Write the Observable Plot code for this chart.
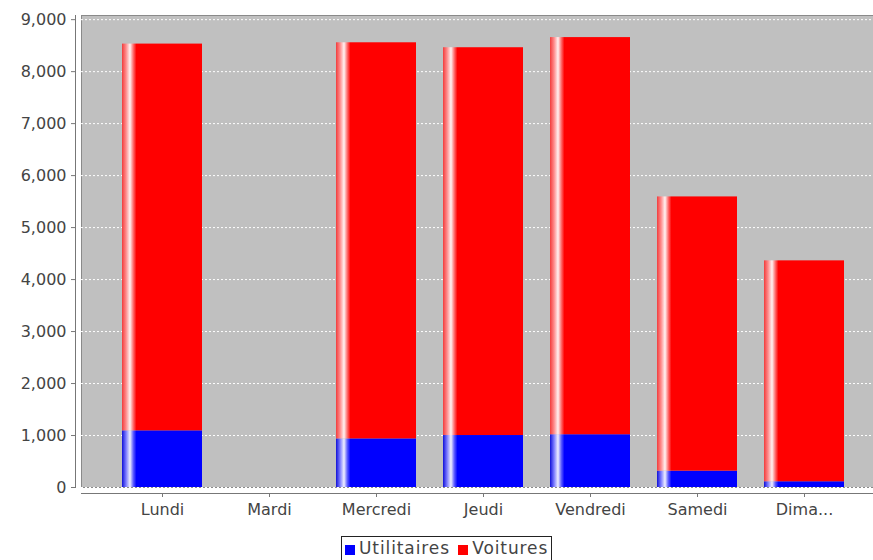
<!DOCTYPE html>
<html>
<head>
<meta charset="utf-8">
<script src="https://cdn.jsdelivr.net/npm/d3@7"></script>
<script src="https://cdn.jsdelivr.net/npm/@observablehq/plot@0.6"></script>
<style>
  body { margin: 0; background: #fff; font-family: "DejaVu Sans", sans-serif; }
  #wrap { position: relative; width: 873px; height: 560px; overflow: hidden; }
  #legend { position: absolute; left: 341px; top: 536px; border: 1px solid #222; padding: 1px 3px 2px 3px;
            font-size: 17px; letter-spacing: 0.9px; color: #444; white-space: nowrap; line-height: 21px; }
  .sw { display: inline-block; width: 10px; height: 10px; margin-right: 4px; vertical-align: -1px; }
</style>
</head>
<body>
<svg width="0" height="0" style="position:absolute">
  <defs>
    <linearGradient id="gradRed" x1="0" y1="0" x2="1" y2="0">
      <stop offset="0" stop-color="#f23c3c"/>
      <stop offset="0.05" stop-color="#ff8a8a"/>
      <stop offset="0.10" stop-color="#fff3f3"/>
      <stop offset="0.14" stop-color="#ff7070"/>
      <stop offset="0.18" stop-color="#ff0000"/>
      <stop offset="1" stop-color="#ff0000"/>
    </linearGradient>
    <linearGradient id="gradBlue" x1="0" y1="0" x2="1" y2="0">
      <stop offset="0" stop-color="#1010d8"/>
      <stop offset="0.05" stop-color="#7a7aff"/>
      <stop offset="0.10" stop-color="#f0f0ff"/>
      <stop offset="0.14" stop-color="#6060ff"/>
      <stop offset="0.18" stop-color="#0000ff"/>
      <stop offset="1" stop-color="#0000ff"/>
    </linearGradient>
  </defs>
</svg>
<div id="wrap">
  <div id="chart"></div>
  <div id="legend"><span class="sw" style="background:#0000ff"></span>Utilitaires <span class="sw" style="background:#ff0000;margin-left:2px"></span>Voitures</div>
</div>
<script>
const categories = ["Lundi", "Mardi", "Mercredi", "Jeudi", "Vendredi", "Samedi", "Dimanche"];
const tickLabels = ["Lundi", "Mardi", "Mercredi", "Jeudi", "Vendredi", "Samedi", "Dima..."];
const seriesNames = ["Utilitaires", "Voitures"];
const utilitaires = [1090, 0, 935, 1000, 1015, 315, 110];
const voitures = [7440, 0, 7620, 7460, 7640, 5275, 4250];
const yTicks = [0, 1000, 2000, 3000, 4000, 5000, 6000, 7000, 8000, 9000];

const data = [];
categories.forEach((c, i) => {
  data.push({day: c, series: seriesNames[0], value: utilitaires[i]});
  data.push({day: c, series: seriesNames[1], value: voitures[i]});
});
const fills = {Utilitaires: "url(#gradBlue)", Voitures: "url(#gradRed)"};

const chart = Plot.plot({
  width: 873,
  height: 532,
  marginTop: 15,
  marginLeft: 81,
  marginRight: 0,
  marginBottom: 45,
  style: {fontFamily: "DejaVu Sans, sans-serif", fontSize: "16px", color: "#444", background: "transparent"},
  x: {domain: categories, paddingInner: 0.2535, paddingOuter: 0.322, align: 0.58, label: null},
  y: {domain: [0, 9080], label: null},
  marks: [
    Plot.frame({fill: "#c0c0c0", stroke: "#8a8a8a"}),
    Plot.gridY(yTicks, {stroke: "#ffffff", strokeOpacity: 1, strokeDasharray: "2,2"}),
    Plot.barY(data, Plot.stackY({x: "day", y: "value", order: seriesNames, fill: d => fills[d.series]})),
    Plot.frame({anchor: "left", dx: -6, stroke: "#777"}),
    Plot.frame({anchor: "bottom", dy: 6, stroke: "#777"}),
    Plot.axisY(yTicks, {tickFormat: d3.format(","), tickSize: 4, tickPadding: 5, dx: -6, stroke: "#777", fill: "#444"}),
    Plot.axisX({tickFormat: (d, i) => tickLabels[categories.indexOf(d)], tickSize: 4, tickPadding: 6, dy: 6, stroke: "#777", fill: "#444"})
  ]
});
document.getElementById("chart").appendChild(chart);
</script>
</body>
</html>
